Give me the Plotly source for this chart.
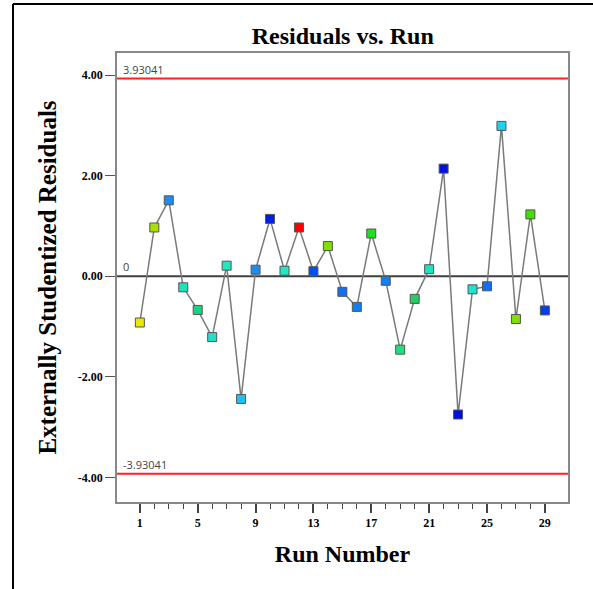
import plotly.graph_objects as go

runs = list(range(1, 30))
residuals = [-0.92, 0.97, 1.51, -0.22, -0.67, -1.21, 0.21, -2.44, 0.13, 1.14,
             0.11, 0.97, 0.10, 0.60, -0.31, -0.61, 0.85, -0.09, -1.46, -0.45,
             0.14, 2.14, -2.75, -0.26, -0.20, 2.99, -0.85, 1.23, -0.68]
colors = ["#e8e800", "#a8e000", "#1e8cf0", "#20e0c0", "#20d080", "#20e0c8", "#20e8c0",
          "#20c0f0", "#1e8cf0", "#0020e0", "#20e8c8", "#ff0000", "#0050f0", "#80e000",
          "#1070f0", "#1080f0", "#20e020", "#1080f0", "#20e080", "#20d060", "#20e0c0",
          "#0010e0", "#0010e0", "#20e0d0", "#1070f0", "#20d0f0", "#80e000", "#40e000",
          "#0040f0"]
limit = 3.93041
ytick_vals = [-4, -2, 0, 2, 4]
ytick_text = ["-4.00", "-2.00", "0.00", "2.00", "4.00"]
xtick_vals = [1, 5, 9, 13, 17, 21, 25, 29]

serif = "Liberation Serif"
fig = go.Figure()
fig.add_trace(go.Scatter(
    x=runs, y=residuals, mode="lines+markers",
    line=dict(color="#7a7a7a", width=1.5),
    marker=dict(symbol="square", size=9, color=colors,
                line=dict(color="#555555", width=1)),
    showlegend=False, hoverinfo="x+y"))

x0, x1 = -0.58, 30.6
for v in (limit, -limit):
    fig.add_shape(type="line", xref="paper", yref="y", x0=0, x1=1, y0=v, y1=v,
                  line=dict(color="#ff2020", width=2), layer="below")
fig.add_shape(type="line", xref="paper", yref="y", x0=0, x1=1, y0=0, y1=0,
              line=dict(color="#404040", width=2), layer="below")

# outer frame (left and top edges only)
fig.add_shape(type="line", xref="paper", yref="paper", x0=-0.2306, x1=-0.2306,
              y0=1.109, y1=-0.25, line=dict(color="black", width=2))
fig.add_shape(type="line", xref="paper", yref="paper", x0=-0.2306, x1=1.08,
              y0=1.109, y1=1.109, line=dict(color="black", width=2))

lab_font = dict(family="Open Sans", size=11, color="#444444")
fig.add_annotation(x=0.008, y=limit, xref="paper", yref="y", text=f"{limit}",
                   showarrow=False, xanchor="left", yanchor="bottom", font=lab_font)
fig.add_annotation(x=0.008, y=-limit, xref="paper", yref="y", text=f"-{limit}",
                   showarrow=False, xanchor="left", yanchor="bottom", font=lab_font)
fig.add_annotation(x=0.008, y=0, xref="paper", yref="y", text="0",
                   showarrow=False, xanchor="left", yanchor="bottom", font=lab_font)

fig.update_layout(
    width=593, height=589,
    margin=dict(l=117, r=25, t=53, b=87),
    paper_bgcolor="white", plot_bgcolor="white",
    title=dict(text="<b>Residuals vs. Run</b>", x=0.578, xanchor="center",
               y=0.94, yanchor="middle",
               font=dict(family=serif, size=24, color="black")),
    xaxis=dict(range=[x0, x1], tickvals=xtick_vals, ticks="outside", ticklen=9,
               tickcolor="#444444", tickwidth=1.5,
               minor=dict(tickvals=runs, ticks="outside", ticklen=5, tickcolor="#444444", tickwidth=1),
               showline=True, linecolor="#888888", linewidth=1.5, mirror=True,
               showgrid=False, zeroline=False,
               tickfont=dict(family=serif, size=12, color="black", weight="bold"),
               title=dict(text="<b>Run Number</b>", standoff=16,
                          font=dict(family=serif, size=24, color="black"))),
    yaxis=dict(range=[-4.49, 4.44], tickvals=ytick_vals, ticktext=ytick_text,
               ticks="outside", ticklen=10, tickcolor="#555555", tickwidth=1,
               showline=True, linecolor="#888888", linewidth=1.5, mirror=True,
               showgrid=False, zeroline=False,
               tickfont=dict(family=serif, size=12, color="black", weight="bold"),
               title=dict(text="<b>Externally Studentized Residuals</b>", standoff=14,
                          font=dict(family=serif, size=25, color="black"))),
)
fig.write_html("out.html")
